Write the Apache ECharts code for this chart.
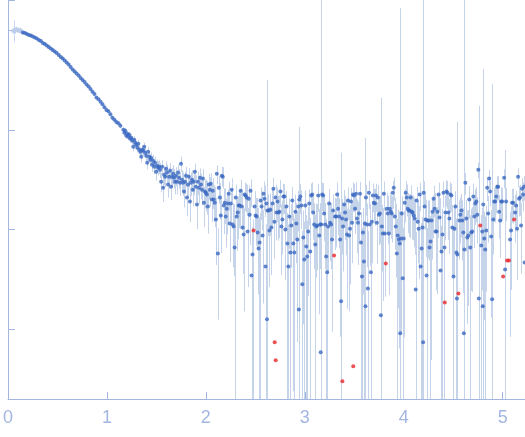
<!DOCTYPE html>
<html><head><meta charset="utf-8">
<script src="https://cdn.jsdelivr.net/npm/echarts@6/dist/echarts.min.js"></script>
<style>html,body{margin:0;padding:0;background:#fff}#chart{width:525px;height:437px}</style>
</head><body><div id="chart"></div>
<script>
// x tick labels shown on the axis
const xTickLabels = [0, 1, 2, 3, 4, 5];

// excluded (pale) first points
const qExcluded = [0.050,0.060,0.070,0.080,0.090,0.101,0.111,0.121,0.131,0.141];
const iExcluded = [0.977,1.0,0.977,1.023,1.0,1.0,0.977,1.0,0.977,0.955];
const eExcluded = [0.06,0.25,0.06,0.06,0.05,0.06,0.05,0.06,0.05,0.06];

// low q
const qLow = [0.151,0.171,0.191,0.211,0.231,0.251,0.271,0.291,0.312,0.332,
0.352,0.372,0.392,0.412,0.432,0.452,0.472,0.492,0.513,0.533,
0.553,0.573,0.593,0.613,0.633,0.653,0.673,0.693,0.714,0.734,
0.754,0.774,0.794,0.814,0.834,0.854,0.874,0.894,0.915,0.935,
0.955,0.975,0.995,1.015,1.035,1.055,1.075,1.095,1.116,1.136];
const iLow = [0.944,0.933,0.912,0.891,0.881,0.861,0.841,0.822,0.794,0.776,
0.741,0.724,0.700,0.676,0.653,0.631,0.610,0.589,0.562,0.537,
0.519,0.496,0.473,0.452,0.427,0.403,0.385,0.367,0.351,0.331,
0.316,0.302,0.285,0.272,0.257,0.240,0.229,0.211,0.202,0.191,
0.180,0.168,0.158,0.153,0.143,0.132,0.126,0.120,0.116,0.110];
const eLow = [0.009,0.0092,0.0089,0.0088,0.0089,0.0087,0.0086,0.0085,0.0084,0.0083,
0.0082,0.0081,0.008,0.0079,0.0078,0.0077,0.0077,0.0076,0.0075,0.0075,
0.0074,0.0073,0.0073,0.0072,0.0072,0.0071,0.0071,0.007,0.007,0.007,
0.0069,0.0069,0.0069,0.0068,0.0068,0.0068,0.0068,0.0067,0.0067,0.0067,
0.0067,0.0067,0.0067,0.0067,0.0067,0.0067,0.0067,0.0067,0.0067,0.0067];

// transition
const qMid = [1.166,1.176,1.186,1.196,1.206,1.216,1.226,1.236,1.246,1.256,
1.266,1.276,1.286,1.296,1.307,1.317,1.327,1.337,1.347,1.357,
1.367,1.377,1.387,1.397,1.407,1.417,1.427,1.437,1.447,1.457,
1.467,1.477,1.487,1.497,1.508,1.518,1.528,1.538,1.548,1.558,
1.568,1.578,1.588,1.598,1.608,1.618,1.628,1.638,1.648,1.658,
1.668,1.678,1.688,1.698,1.709,1.719,1.729,1.739,1.749,1.759,
1.769,1.779,1.789,1.799,1.809,1.819,1.829,1.839,1.849,1.859,
1.869,1.879,1.889,1.899,1.910,1.920,1.930,1.940,1.950,1.960,
1.970,1.980,1.990,2.000,2.010,2.020,2.030,2.040,2.050,2.060,
2.070,2.080,2.090,2.101,2.111,2.121,2.131,2.141,2.151,2.161,
2.171,2.181];
const iMid = [0.100,0.0933,0.0977,0.0871,0.0912,0.0851,0.0891,0.0813,0.0832,0.0776,
0.0676,0.0794,0.0741,0.0708,0.0661,0.0724,0.0631,0.0603,0.0537,0.0631,
0.0617,0.0676,0.0589,0.0550,0.0468,0.0603,0.0537,0.0501,0.0525,0.0447,
0.0490,0.0427,0.0468,0.0380,0.0437,0.0417,0.0427,0.0398,0.0302,0.0427,
0.0263,0.0355,0.0339,0.0407,0.0372,0.0282,0.0339,0.0389,0.0269,0.0339,
0.0363,0.0331,0.0302,0.0347,0.0302,0.0372,0.0331,0.0295,0.0457,0.0316,
0.0295,0.0240,0.0302,0.0347,0.0209,0.0282,0.0339,0.0191,0.0295,0.0316,
0.0251,0.0302,0.0380,0.0269,0.0178,0.0302,0.0263,0.0331,0.0282,0.0251,
0.0324,0.0186,0.0240,0.0234,0.0224,0.0170,0.0282,0.0251,0.0288,0.0200,
0.0245,0.0200,0.0186,0.0126,0.0363,0.00575,0.0263,0.0209,0.0138,0.0347,
0.0339,0.0174];
const eMid = [0.0068,0.0066,0.0067,0.0065,0.0066,0.0064,0.0066,0.0065,0.0063,0.0065,
0.0066,0.0068,0.0065,0.0067,0.0064,0.0066,0.0065,0.0063,0.0066,0.0064,
0.0070,0.0068,0.0071,0.0069,0.0067,0.0070,0.0068,0.0069,0.0067,0.0068,
0.0071,0.0069,0.0068,0.0070,0.0067,0.0069,0.0068,0.0070,0.0066,0.0069,
0.0075,0.0078,0.0074,0.0077,0.0076,0.0073,0.0078,0.0075,0.0072,0.0076,
0.0079,0.0074,0.0077,0.0075,0.0078,0.0076,0.0073,0.0077,0.0081,0.0075,
0.0078,0.0074,0.0076,0.0079,0.0073,0.0077,0.0075,0.0072,0.0078,0.0076,
0.0079,0.0082,0.0078,0.0081,0.0077,0.0080,0.0083,0.0079,0.0081,0.0078,
0.0082,0.0080,0.0077,0.0081,0.0083,0.0079,0.0080,0.0082,0.0078,0.0081,
0.0084,0.0079,0.0080,0.0082,0.0078,0.0045,0.0081,0.0083,0.0080,0.0079,
0.0082,0.0084];

// high q
const qHigh = [2.191,2.201,2.211,2.221,2.231,2.241,2.251,2.261,2.271,2.281,
2.291,2.302,2.312,2.322,2.332,2.342,2.352,2.362,2.372,2.382,
2.392,2.402,2.412,2.422,2.432,2.442,2.452,2.462,2.472,2.492,
2.503,2.513,2.523,2.533,2.543,2.553,2.563,2.573,2.583,2.593,
2.603,2.613,2.618,2.623,2.633,2.643,2.653,2.663,2.673,2.683,
2.693,2.704,2.714,2.724,2.734,2.744,2.754,2.764,2.774,2.784,
2.794,2.804,2.814,2.824,2.834,2.844,2.854,2.864,2.874,2.884,
2.894,2.905,2.915,2.925,2.935,2.940,2.945,2.955,2.965,2.975,
2.985,2.995,3.005,3.015,3.025,3.035,3.045,3.055,3.065,3.075,
3.085,3.095,3.106,3.116,3.126,3.136,3.146,3.156,3.161,3.166,
3.176,3.186,3.196,3.206,3.216,3.226,3.236,3.246,3.256,3.266,
3.276,3.286,3.307,3.317,3.327,3.337,3.347,3.357,3.367,3.377,
3.387,3.397,3.407,3.417,3.427,3.437,3.447,3.457,3.467,3.477,
3.487,3.497,3.508,3.518,3.528,3.538,3.548,3.558,3.568,3.578,
3.588,3.598,3.608,3.613,3.618,3.628,3.638,3.648,3.658,3.668,
3.678,3.688,3.698,3.709,3.719,3.729,3.739,3.749,3.759,3.769,
3.779,3.789,3.799,3.809,3.829,3.839,3.849,3.859,3.869,3.879,
3.889,3.899,3.910,3.920,3.930,3.940,3.950,3.960,3.965,3.970,
3.980,3.990,4.000,4.010,4.020,4.030,4.040,4.050,4.060,4.070,
4.080,4.090,4.101,4.111,4.121,4.131,4.141,4.151,4.161,4.171,
4.181,4.191,4.196,4.201,4.211,4.221,4.231,4.241,4.251,4.261,
4.271,4.281,4.291,4.302,4.312,4.322,4.332,4.342,4.352,4.362,
4.372,4.382,4.392,4.402,4.412,4.422,4.432,4.442,4.452,4.462,
4.472,4.482,4.492,4.503,4.513,4.523,4.533,4.538,4.543,4.563,
4.573,4.583,4.593,4.603,4.608,4.613,4.623,4.633,4.643,4.653,
4.663,4.673,4.683,4.693,4.704,4.714,4.724,4.734,4.744,4.754,
4.759,4.784,4.794,4.799,4.804,4.814,4.824,4.834,4.844,4.854,
4.864,4.874,4.884,4.894,4.905,4.915,4.925,4.935,4.945,4.955,
4.965,4.975,4.985,4.995,5.015,5.025,5.035,5.075,5.085,5.095,
5.106,5.126,5.136,5.146,5.156,5.166,5.176,5.186,5.196,5.206,
5.216,5.222];
const iHigh = [0.0186,0.0135,0.0162,0.0182,0.0229,0.0115,0.0182,0.0251,0.0112,0.0107,
0.00661,0.0209,0.0135,0.0148,0.0174,0.0174,0.0245,0.0170,0.0105,0.00891,
0.0224,0.0219,0.0209,0.00955,0.0204,0.0141,0.0245,0.00347,0.00562,0.0170,
0.0138,0.0135,0.00933,0.00646,0.00741,0.0195,0.0170,0.00871,0.0229,0.0204,
0.00427,0.0182,0.00126,0.0155,0.0155,0.00977,0.0158,0.0105,0.0182,0.0257,
0.0120,0.0209,0.0148,0.0191,0.0148,0.0151,0.0240,0.0107,0.0126,0.0214,
0.0214,0.0100,0.0170,0.00724,0.00427,0.0135,0.00589,0.0110,0.0195,0.00724,
0.00589,0.0151,0.0115,0.00794,0.0170,0.00158,0.0200,0.0214,0.0174,0.00282,
0.00832,0.00501,0.0174,0.00676,0.00537,0.00955,0.0182,0.00603,0.0219,0.0224,
0.0148,0.0112,0.00708,0.0107,0.0110,0.0219,0.00871,0.0112,0.000589,0.0112,
0.0224,0.0219,0.0145,0.0112,0.00537,0.00372,0.0107,0.0182,0.0117,0.0112,
0.00794,0.0155,0.0135,0.0135,0.0224,0.0162,0.0135,0.00794,0.00191,0.0129,
0.0107,0.0178,0.0148,0.0126,0.00891,0.0195,0.00871,0.0102,0.0191,0.0117,
0.0224,0.0219,0.0162,0.0229,0.0129,0.0117,0.0145,0.0229,0.00741,0.00339,
0.00933,0.00479,0.0115,0.00170,0.0209,0.0112,0.00257,0.0234,0.0112,0.00372,
0.0120,0.0219,0.0186,0.0182,0.0219,0.0117,0.0209,0.0141,0.0145,0.00138,
0.0107,0.00912,0.0229,0.00912,0.0162,0.0145,0.00912,0.0162,0.0151,0.0145,
0.0234,0.0263,0.0135,0.0107,0.00575,0.00871,0.00794,0.00724,0.000912,0.00813,
0.0145,0.00324,0.00813,0.0186,0.0234,0.0209,0.0162,0.0155,0.0155,0.0209,
0.0151,0.0148,0.0138,0.0129,0.00251,0.0195,0.0120,0.0102,0.0224,0.00427,
0.00646,0.0105,0.000741,0.0234,0.0170,0.0126,0.00347,0.0123,0.0123,0.00661,
0.00759,0.0123,0.0151,0.0204,0.0162,0.00955,0.00955,0.0151,0.0224,0.0132,
0.00389,0.00603,0.00891,0.0234,0.00661,0.0148,0.0240,0.0234,0.0148,0.0129,
0.0224,0.0219,0.0105,0.00339,0.0102,0.0170,0.00589,0.00204,0.00562,0.0123,
0.0141,0.0155,0.0123,0.00933,0.000912,0.00631,0.0295,0.0129,0.00832,0.00871,
0.0200,0.00661,0.00933,0.00955,0.0214,0.0135,0.0182,0.0191,0.0141,0.0398,
0.00204,0.00692,0.00955,0.00170,0.0178,0.00813,0.00631,0.00977,0.0263,0.0145,
0.0324,0.0240,0.00851,0.00200,0.0126,0.0191,0.0191,0.0214,0.0269,0.0269,
0.0151,0.0123,0.0191,0.0191,0.0331,0.00398,0.0191,0.00794,0.00977,0.0186,
0.0186,0.0148,0.0174,0.0102,0.0339,0.0204,0.0209,0.0110,0.0257,0.0224,
0.0269,0.00468];
const eHigh = [0.0072,0.0069,0.0073,0.0070,0.0074,0.0068,0.0071,0.0075,0.0070,0.0073,
0.0069,0.0072,0.0074,0.0068,0.0071,0.0073,0.0070,0.0072,0.0069,0.0074,
0.0071,0.0070,0.0073,0.0069,0.0072,0.0071,0.0074,0.0071,0.0070,0.0073,
0.0069,0.0072,0.0071,0.0068,0.0073,0.0070,0.0072,0.0069,0.0074,0.0071,
0.0070,0.0072,0.315,0.0073,0.0069,0.0071,0.0072,0.0070,0.0073,0.0074,
0.0069,0.0072,0.0070,0.0073,0.0071,0.0069,0.0074,0.0072,0.0070,0.0073,
0.0071,0.0069,0.0072,0.0074,0.0070,0.0071,0.0073,0.0069,0.0072,0.0070,
0.0071,0.0073,0.0069,0.0072,0.0074,0.105,0.0070,0.0071,0.0073,0.0069,
0.0072,0.0070,0.0073,0.0071,0.0069,0.0074,0.0072,0.0070,0.0071,0.0073,
0.0069,0.0072,0.0070,0.0074,0.0071,0.0069,0.0073,0.0072,3,0.0070,
0.0071,0.0073,0.0069,0.0072,0.0074,0.0070,0.0071,0.0073,0.0069,0.0072,
0.0070,0.0071,0.0073,0.0069,0.0072,0.0074,0.0070,0.0071,0.057,0.0073,
0.0069,0.0072,0.0070,0.0071,0.0073,0.0069,0.0072,0.0074,0.0070,0.0071,
0.0073,0.0069,0.0072,0.0070,0.0071,0.0073,0.0069,0.0072,0.0074,0.0070,
0.0071,0.0073,0.0069,0.081,0.0072,0.0070,0.0071,0.0073,0.0069,0.0072,
0.0074,0.0070,0.0071,0.0073,0.0069,0.0072,0.0070,0.0071,0.0073,0.208,
0.0069,0.0072,0.0074,0.0070,0.0071,0.0073,0.0069,0.0072,0.0070,0.0071,
0.0073,0.0069,0.0072,0.0074,0.0070,0.0071,0.0073,0.0069,1.66,0.0072,
0.0070,0.0071,0.0073,0.0069,0.0072,0.0074,0.0070,0.0071,0.0073,0.0069,
0.0072,0.0070,0.0071,0.0073,0.0069,0.0072,0.0074,0.0070,0.0071,0.0073,
0.0069,0.0072,3,0.0070,0.0071,0.0073,0.0069,0.0072,0.0074,0.0070,
0.0071,0.0073,0.0069,0.0072,0.0070,0.0071,0.0073,0.0069,0.0072,0.0074,
0.0070,0.0071,0.0073,0.0069,0.0072,0.0070,0.0071,0.0073,0.0069,0.0072,
0.0074,0.0070,0.0071,0.0073,0.0069,0.0072,0.0070,0.118,0.0071,0.0073,
0.0069,0.0072,0.0074,0.0070,3,0.0071,0.0073,0.0069,0.0072,0.0070,
0.0071,0.0073,0.0069,0.0072,0.0074,0.0070,0.0071,0.0073,0.0069,0.0072,
0.172,0.0070,0.0071,0.405,0.0073,0.0069,0.0072,0.0074,0.0070,0.0071,
0.0073,0.0069,0.0072,0.286,0.0070,0.0071,0.0073,0.0069,0.0072,0.0074,
0.0070,0.0071,0.0073,0.0069,0.0072,0.059,0.0070,0.0071,0.0073,0.0069,
0.0072,0.0074,0.0070,0.0071,0.0073,0.0069,0.0072,0.0074,0.0070,0.0071,
0.0073,0.236];

// outliers (red)
const qOutlier = [2.482,2.696,2.706,3.296,3.380,3.490,3.819,4.415,4.553,4.774,5.005,5.045,5.065,5.116];
const iOutlier = [0.00977,0.000741,0.000490,0.00550,0.000302,0.000427,0.00457,0.00186,0.00229,0.0110,0.00339,0.00490,0.00490,0.0126];

const AXIS = '#a3b6e2';
const BAR = '#c6d4ea';

const qMain = qLow.concat(qMid, qHigh);
const iMain = iLow.concat(iMid, iHigh);
const eMain = eLow.concat(eMid, eHigh);

function pts(qs, is) { return qs.map((q, k) => [q, is[k]]); }
function bars(qs, is, es) {
  return qs.map((q, k) => {
    const lo = is[k] - es[k];
    return [q, lo > 0 ? lo : 1e-12, is[k] + es[k]];
  });
}
function barRenderer(color) {
  return function (params, api) {
    const cs = params.coordSys;
    const q = api.value(0);
    const top = api.coord([q, api.value(2)]);
    const bot = api.coord([q, api.value(1)]);
    const yTop = Math.max(top[1], cs.y);
    const yBot = Math.min(isFinite(bot[1]) ? bot[1] : cs.y + cs.height, cs.y + cs.height);
    const x = Math.round(top[0]) + 0.5;
    return {
      type: 'line',
      shape: { x1: x, y1: yTop, x2: x, y2: yBot },
      style: { stroke: color, lineWidth: 1 }
    };
  };
}

const chart = echarts.init(document.getElementById('chart'), null, { renderer: 'canvas' });
chart.setOption({
  animation: false,
  backgroundColor: '#ffffff',
  grid: { left: 5, right: 0, top: 0, bottom: 38, containLabel: false },
  xAxis: {
    type: 'value', min: 0, max: 5.226, interval: 1,
    axisLine: { show: true, lineStyle: { color: AXIS, width: 1 } },
    axisTick: { show: true, inside: true, length: 7, lineStyle: { color: AXIS } },
    axisLabel: {
      color: AXIS, fontSize: 18, margin: 10, fontFamily: 'Liberation Sans',
      showMaxLabel: false,
      formatter: v => (xTickLabels.indexOf(v) >= 0 ? String(v) : '')
    },
    splitLine: { show: false }
  },
  yAxis: {
    type: 'log', logBase: 10, min: 2e-4, max: 2,
    axisLine: { show: true, lineStyle: { color: AXIS, width: 1 } },
    axisTick: { show: true, inside: true, length: 7, lineStyle: { color: AXIS } },
    axisLabel: { show: false },
    splitLine: { show: false }
  },
  series: [
    {
      type: 'custom', name: 'excludedErr', silent: true, z: 1,
      renderItem: barRenderer('#cdd9ee'),
      encode: { x: 0, y: [1, 2] },
      data: bars(qExcluded, iExcluded, eExcluded)
    },
    {
      type: 'custom', name: 'err', silent: true, z: 1,
      renderItem: barRenderer(BAR),
      encode: { x: 0, y: [1, 2] },
      data: bars(qMain, iMain, eMain)
    },
    {
      type: 'scatter', name: 'excluded', silent: true, z: 2,
      symbol: 'circle', symbolSize: 4,
      itemStyle: { color: '#bccdea' },
      data: pts(qExcluded, iExcluded)
    },
    {
      type: 'scatter', name: 'data', silent: true, z: 3,
      symbol: 'circle', symbolSize: 4,
      itemStyle: { color: '#3a68c0' },
      data: pts(qMain, iMain)
    },
    {
      type: 'scatter', name: 'outliers', silent: true, z: 4,
      symbol: 'circle', symbolSize: 4,
      itemStyle: { color: '#e8262b' },
      data: pts(qOutlier, iOutlier)
    }
  ]
});
</script>
</body></html>
